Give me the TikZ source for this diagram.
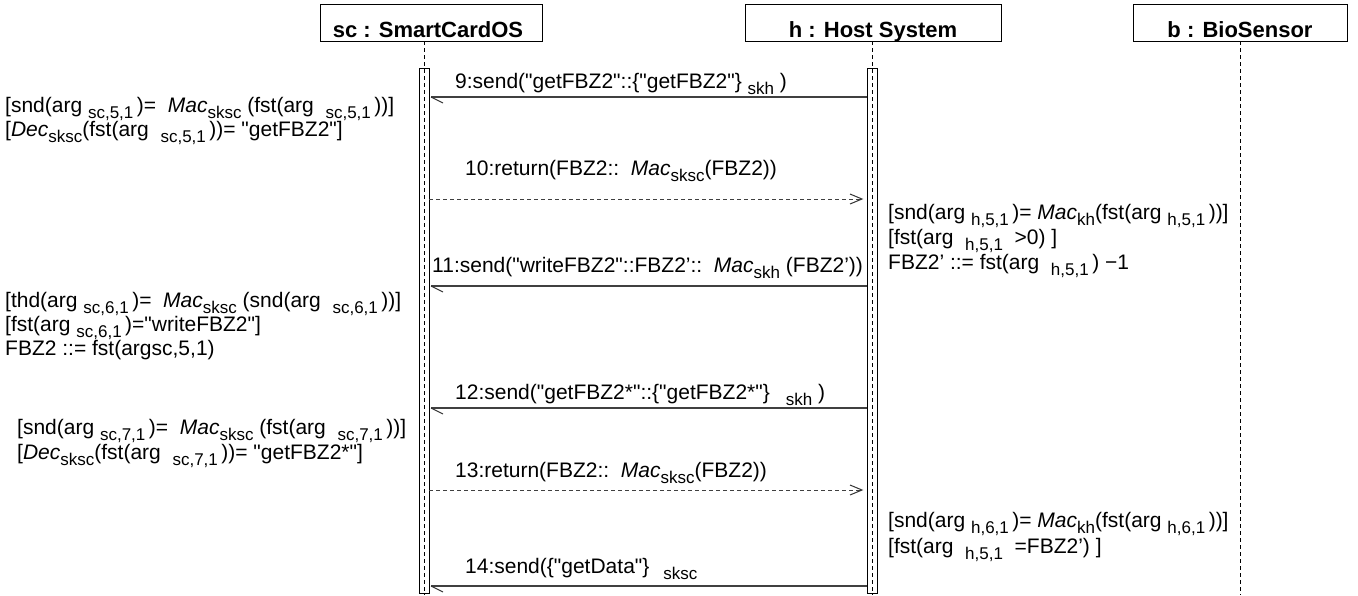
\documentclass[tikz,border=0pt]{standalone}
\usepackage{fontspec}
\setmainfont{Liberation Sans}[Ligatures=TeXOff]
\newcommand{\sbs}[1]{\raisebox{-6pt}{\fontsize{17}{17}\selectfont #1}}
\newcommand{\imac}{\textit{Mac}}
\newcommand{\idec}{\textit{Dec}}
\begin{document}
\begin{tikzpicture}[x=1pt,y=-1pt,
  txt/.style={inner sep=0pt, anchor=base west, font=\fontsize{21}{24}\selectfont},
  ttl/.style={inner sep=0pt, anchor=base, font=\fontsize{22}{24}\selectfont\bfseries},
  objbox/.style={draw=black, line width=1pt, inner sep=0pt, minimum height=37pt},
  actbar/.style={draw=black, line width=1pt, fill=white, inner sep=0pt, minimum width=10pt, minimum height=525pt},
  life/.style={draw=black, line width=1pt, dash pattern=on 4pt off 3pt},
  msg/.style={draw=black!75, line width=1.2pt},
  ret/.style={draw=black!75, line width=1pt, dash pattern=on 4pt off 3pt},
  head/.style={draw=black!80, line width=1pt}]
\useasboundingbox (0,0) rectangle (1358,595);
\fill[white] (0,0) rectangle (1358,595);
% objects
\node[objbox, minimum width=222pt] (scbox) at (431,22.5) {};
\node[objbox, minimum width=256pt] (hbox) at (873,22.5) {};
\node[objbox, minimum width=214pt] (bbox) at (1240,22.5) {};
\node[ttl] (sct) at (428,37) {sc : SmartCardOS};
\node[ttl] (ht) at (873,37) {h : Host System};
\node[ttl] (bt) at (1240,37) {b : BioSensor};
% lifelines
\coordinate (sctop) at (424,41); \coordinate (scend) at (424,595);
\coordinate (htop) at (872,41); \coordinate (hend) at (872,595);
\coordinate (btop) at (1240,41); \coordinate (bend) at (1240,595);
\draw[life] (btop) -- (bend);
\node[actbar] (scbar) at (424,330.5) {};
\node[actbar] (hbar) at (872,330.5) {};
\draw[life] (sctop) -- (scend);
\draw[life] (htop) -- (hend);
% messages
\coordinate (m9a) at (867,97); \coordinate (m9b) at (431,97);
\coordinate (m10a) at (429,199); \coordinate (m10b) at (862,199);
\coordinate (m11a) at (867,286); \coordinate (m11b) at (431,286);
\coordinate (m12a) at (867,408); \coordinate (m12b) at (431,408);
\coordinate (m13a) at (429,490); \coordinate (m13b) at (862,490);
\coordinate (m14a) at (867,586); \coordinate (m14b) at (431,586);
\foreach \m in {m9,m11,m12,m14}{
  \draw[msg] (\m a) -- (\m b);
  \draw[head] (\m b) -- ++(12,6);
}
\foreach \m in {m10,m13}{
  \draw[ret] (\m a) -- (\m b);
  \draw[head] ([shift={(-12,-5)}]\m b) -- (\m b) -- ([shift={(-12,5)}]\m b);
}
% message labels
\node[txt] (l9) at (455,88) {9:send("getFBZ2"::\{"getFBZ2"\}\ \sbs{skh}\ )};
\node[txt] (l10) at (465,175) {10:return(FBZ2::\ \ \imac\sbs{sksc}(FBZ2))};
\node[txt] (l11) at (432,272) {11:send("writeFBZ2"::FBZ2’::\ \ \imac\sbs{skh}\ (FBZ2’))};
\node[txt] (l12) at (455,399) {12:send("getFBZ2*"::\{"getFBZ2*"\}\hspace{16pt}\sbs{skh}\ )};
\node[txt] (l13) at (455,477) {13:return(FBZ2::\ \ \imac\sbs{sksc}(FBZ2))};
\node[txt] (l14) at (465,573) {14:send(\{"getData"\}\hspace{14pt}\sbs{sksc}};
% left guards
\node[txt] (g1) at (5,112) {[snd(arg \sbs{sc,5,1}\,)=\ \ \imac\sbs{sksc}\ (fst(arg\ \ \sbs{sc,5,1}\,))]};
\node[txt] (g2) at (5,136) {[\idec\sbs{sksc}(fst(arg\ \ \sbs{sc,5,1}\,))= "getFBZ2"]};
\node[txt] (g3) at (5,307) {[thd(arg \sbs{sc,6,1}\,)=\ \ \imac\sbs{sksc}\ (snd(arg\ \ \sbs{sc,6,1}\,))]};
\node[txt] (g4) at (5,331) {[fst(arg \sbs{sc,6,1}\,)="writeFBZ2"]};
\node[txt] (g5) at (5,355) {FBZ2 ::= fst(argsc,5,1)};
\node[txt] (g6) at (17,434) {[snd(arg \sbs{sc,7,1}\,)=\ \ \imac\sbs{sksc}\ (fst(arg\ \ \sbs{sc,7,1}\,))]};
\node[txt] (g7) at (17,459) {[\idec\sbs{sksc}(fst(arg\ \ \sbs{sc,7,1}\,))= "getFBZ2*"]};
% right guards
\node[txt] (r1) at (888,219) {[snd(arg \sbs{h,5,1}\,)= \imac\sbs{kh}(fst(arg \sbs{h,5,1}\,))]};
\node[txt] (r2) at (888,244) {[fst(arg\ \ \sbs{h,5,1}\ \ >0) ]};
\node[txt] (r3) at (888,269) {FBZ2’ ::= fst(arg\ \ \sbs{h,5,1}\,) −1};
\node[txt] (r4) at (888,527) {[snd(arg \sbs{h,6,1}\,)= \imac\sbs{kh}(fst(arg \sbs{h,6,1}\,))]};
\node[txt] (r5) at (888,553) {[fst(arg\ \ \sbs{h,5,1}\ \ =FBZ2’) ]};
\end{tikzpicture}
\end{document}
